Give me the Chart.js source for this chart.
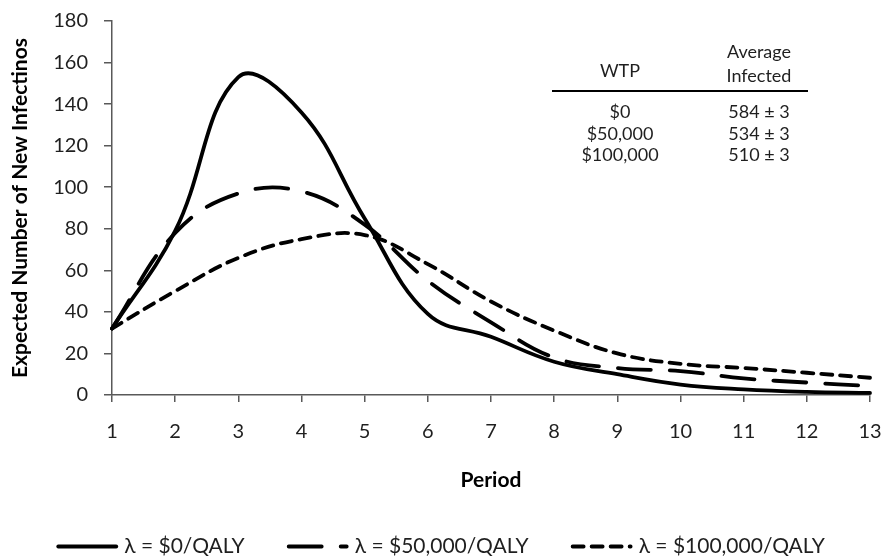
<!DOCTYPE html>
<html>
<head>
<meta charset="utf-8">
<script src="https://cdn.jsdelivr.net/npm/chart.js@4.4.1/dist/chart.umd.min.js"></script>
<style>
  body { margin: 0; background: #fff; }
  #wrap { position: relative; width: 881px; height: 557px; }
</style>
</head>
<body>
<div id="wrap"><canvas id="infChart"></canvas></div>
<script>
// data
var periods = ['1', '2', '3', '4', '5', '6', '7', '8', '9', '10', '11', '12', '13'];
var wtp0 = [32, 79, 153, 136, 85, 39, 28, 16, 10, 5, 2.7, 1.5, 1];
var wtp50k = [32, 78, 97, 98, 82, 55, 35, 18, 13, 11.5, 8, 6, 4.3];
var wtp100k = [32, 50, 66, 75, 77, 63, 45, 31, 20, 15, 13, 10.7, 8.3];
var seriesNames = ['\u03bb = $0/QALY', '\u03bb = $50,000/QALY', '\u03bb = $100,000/QALY'];

// inset table
var tableWtp = ['$0', '$50,000', '$100,000'];
var tableAvg = ['584 \u00b1 3', '534 \u00b1 3', '510 \u00b1 3'];

var FONT = 'Lato, "Noto Sans", sans-serif';
var TXT = '#1f1f1f';

// table drawn inside the plot, top right
var tablePlugin = {
    id: 'wtpTable',
    afterDraw: function (chart) {
        var ctx = chart.ctx;
        ctx.save();
        ctx.fillStyle = TXT;
        ctx.font = '18px ' + FONT;
        ctx.textAlign = 'center';
        ctx.textBaseline = 'middle';
        var c1 = 620, c2 = 759;
        ctx.fillText('WTP', c1, 71);
        ctx.fillText('Average', c2, 52);
        ctx.fillText('Infected', c2, 76);
        ctx.beginPath();
        ctx.moveTo(552, 91);
        ctx.lineTo(808, 91);
        ctx.lineWidth = 2;
        ctx.strokeStyle = '#000';
        ctx.stroke();
        for (var i = 0; i < tableWtp.length; i++) {
            var y = 112 + i * 21.7;
            ctx.fillText(tableWtp[i], c1, y);
            ctx.fillText(tableAvg[i], c2, y);
        }
        ctx.restore();
    }
};

// legend along the bottom, line samples with the dataset dash
var legendPlugin = {
    id: 'lineLegend',
    afterDraw: function (chart) {
        var ctx = chart.ctx;
        var sets = chart.data.datasets;
        var sample = 62, gapText = 6, gapItem = 42;
        ctx.save();
        ctx.font = '21px ' + FONT;
        var total = 0;
        var widths = sets.map(function (ds) {
            var w = ctx.measureText(ds.label).width;
            total += sample + gapText + w;
            return w;
        });
        total += gapItem * (sets.length - 1);
        var x = (chart.width - total) / 2;
        var y = chart.height - 10.5;
        sets.forEach(function (ds, i) {
            ctx.beginPath();
            ctx.setLineDash(ds.borderDash || []);
            ctx.lineCap = 'round';
            ctx.lineWidth = ds.borderWidth;
            ctx.strokeStyle = ds.borderColor;
            ctx.moveTo(x + 2, y);
            ctx.lineTo(x + sample - 2, y);
            ctx.stroke();
            ctx.setLineDash([]);
            ctx.fillStyle = TXT;
            ctx.textAlign = 'left';
            ctx.textBaseline = 'middle';
            ctx.fillText(ds.label, x + sample + gapText, y);
            x += sample + gapText + widths[i] + gapItem;
        });
        ctx.restore();
    }
};

function makeSet(label, values, dash) {
    return {
        label: label,
        data: values,
        borderColor: '#000',
        borderWidth: 3.8,
        borderDash: dash,
        borderCapStyle: 'round',
        pointRadius: 0,
        tension: 0.4,
        fill: false
    };
}

var ctx = document.getElementById('infChart').getContext('2d');
var infChart = new Chart(ctx, {
    type: 'line',
    data: {
        labels: periods,
        datasets: [
            makeSet(seriesNames[0], wtp0, []),
            makeSet(seriesNames[1], wtp50k, [33, 19]),
            makeSet(seriesNames[2], wtp100k, [11, 8])
        ]
    },
    options: {
        responsive: true,
        maintainAspectRatio: false,
        animation: false,
        layout: { padding: { top: 21, right: 10, bottom: 64.5, left: 0 } },
        plugins: {
            legend: { display: false },
            tooltip: { enabled: false }
        },
        scales: {
            x: {
                offset: false,
                border: { color: '#595959', width: 1.5 },
                grid: { drawOnChartArea: false, drawTicks: true, tickLength: 7, color: '#595959', lineWidth: 1.5 },
                ticks: { color: TXT, font: { family: FONT, size: 20 }, padding: 18, maxRotation: 0 },
                title: {
                    display: true,
                    text: 'Period',
                    color: '#000',
                    font: { family: FONT, size: 21, weight: 'bold' },
                    padding: { top: 22, bottom: 0 }
                },
                afterFit: function (scale) {
                    scale.height = 97.5;
                    scale.paddingLeft = 0;
                    scale.paddingRight = 11;
                }
            },
            y: {
                min: 0,
                max: 180,
                border: { color: '#595959', width: 1.5 },
                grid: { drawOnChartArea: false, drawTicks: true, tickLength: 8, color: '#595959', lineWidth: 1.5 },
                ticks: { stepSize: 20, color: TXT, font: { family: FONT, size: 20 }, padding: 16 },
                title: {
                    display: true,
                    text: 'Expected Number of New Infectinos',
                    color: '#000',
                    font: { family: FONT, size: 21, weight: 'bold' },
                    padding: { top: 8, bottom: 0 }
                },
                afterFit: function (scale) {
                    scale.width = 112;
                    scale.paddingTop = 0;
                    scale.paddingBottom = 0;
                }
            }
        }
    },
    plugins: [tablePlugin, legendPlugin]
});
</script>
</body>
</html>
